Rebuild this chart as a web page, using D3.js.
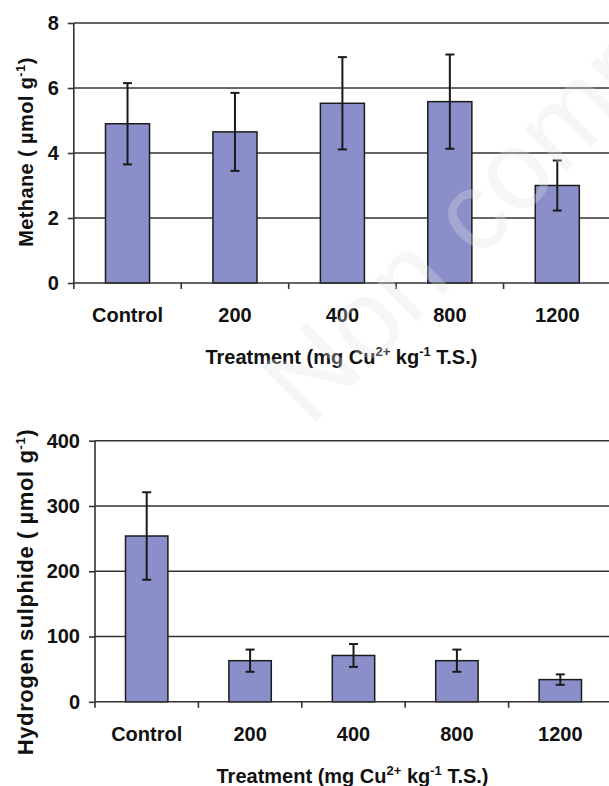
<!DOCTYPE html>
<html>
<head>
<meta charset="utf-8">
<script src="https://cdn.jsdelivr.net/npm/d3@7"></script>
<style>
  body { margin: 0; background: #fff; }
  svg { display: block; }
  text { font-family: "Liberation Sans", Arial, sans-serif; font-weight: bold; fill: #111; }
  .grid-line { stroke: #333; stroke-width: 1.6; }
  .axis-line { stroke: #333; stroke-width: 1.6; }
  .bar { fill: #8a8ec9; stroke: #1c1c1c; stroke-width: 1.5; }
  .err { stroke: #1a1a1a; stroke-width: 2; }
  .watermark { font-weight: normal; fill: #e2e2e2; opacity: 0.3; }
</style>
</head>
<body>
<svg id="chart" width="609" height="786"></svg>
<script>
const CATEGORIES = ["Control", "200", "400", "800", "1200"];

const METHANE_MEAN = [4.9, 4.65, 5.53, 5.58, 3.0];
const METHANE_ERR = [1.25, 1.2, 1.42, 1.45, 0.77];
const METHANE_TICKS = [0, 2, 4, 6, 8];

const SULPHIDE_MEAN = [254, 63, 71, 63, 34];
const SULPHIDE_ERR = [67, 17, 17.5, 17, 8];
const SULPHIDE_TICKS = [0, 100, 200, 300, 400];

const svg = d3.select("#chart");

function drawPanel(opts) {
  const g = svg.append("g");
  const yMax = opts.ticks[opts.ticks.length - 1];

  const x = d3.scaleBand()
    .domain(CATEGORIES)
    .range([opts.left, opts.right])
    .paddingInner(0.59)
    .paddingOuter(0.295);

  const y = d3.scaleLinear()
    .domain([0, yMax])
    .range([opts.bottom, opts.top]);

  // horizontal grid lines (0 is the x axis)
  g.selectAll(".grid-line")
    .data(opts.ticks.filter((t) => t > 0))
    .enter().append("line")
    .classed("grid-line", true)
    .attr("x1", opts.left)
    .attr("x2", opts.right)
    .attr("y1", (t) => y(t))
    .attr("y2", (t) => y(t));

  // bars
  const rows = CATEGORIES.map((c, i) => ({"cat": c, "mean": opts.mean[i], "err": opts.err[i]}));

  g.selectAll(".bar")
    .data(rows)
    .enter().append("rect")
    .classed("bar", true)
    .attr("x", (d) => x(d.cat))
    .attr("width", x.bandwidth())
    .attr("y", (d) => y(d.mean))
    .attr("height", (d) => y(0) - y(d.mean));

  // error bars
  const errs = g.selectAll(".err-group")
    .data(rows)
    .enter().append("g")
    .attr("transform", (d) => "translate(" + (x(d.cat) + x.bandwidth() / 2) + ",0)");

  errs.append("line").classed("err", true)
    .attr("x1", 0).attr("x2", 0)
    .attr("y1", (d) => y(d.mean + d.err))
    .attr("y2", (d) => y(d.mean - d.err));
  errs.append("line").classed("err", true)
    .attr("x1", -4.5).attr("x2", 4.5)
    .attr("y1", (d) => y(d.mean + d.err))
    .attr("y2", (d) => y(d.mean + d.err));
  errs.append("line").classed("err", true)
    .attr("x1", -4.5).attr("x2", 4.5)
    .attr("y1", (d) => y(d.mean - d.err))
    .attr("y2", (d) => y(d.mean - d.err));

  // y axis
  const yAxis = g.append("g")
    .attr("transform", "translate(" + opts.left + ",0)")
    .call(d3.axisLeft(y).tickValues(opts.ticks).tickSize(6).tickPadding(9).tickFormat(d3.format("d")));
  yAxis.select(".domain").remove();
  yAxis.selectAll(".tick line").attr("stroke", "#333").attr("stroke-width", 1.6);
  yAxis.selectAll(".tick text").attr("font-size", 20).attr("fill", "#111");
  yAxis.attr("font-family", null).attr("font-size", null);

  g.append("line").classed("axis-line", true)
    .attr("x1", opts.left).attr("x2", opts.left)
    .attr("y1", opts.top).attr("y2", opts.bottom);

  // x axis with ticks on category boundaries
  g.append("line").classed("axis-line", true)
    .attr("x1", opts.left).attr("x2", opts.right)
    .attr("y1", opts.bottom).attr("y2", opts.bottom);

  const step = x.step();
  g.selectAll(".cat-tick")
    .data(d3.range(CATEGORIES.length + 1))
    .enter().append("line")
    .classed("axis-line", true)
    .attr("x1", (i) => opts.left + i * step)
    .attr("x2", (i) => opts.left + i * step)
    .attr("y1", opts.bottom)
    .attr("y2", opts.bottom + 6);

  g.selectAll(".cat-label")
    .data(CATEGORIES)
    .enter().append("text")
    .attr("x", (c) => x(c) + x.bandwidth() / 2)
    .attr("y", opts.bottom + 39)
    .attr("text-anchor", "middle")
    .attr("font-size", 20)
    .text((c) => c);

  // x title
  const xt = g.append("text")
    .attr("x", (opts.left + opts.right) / 2 - 1)
    .attr("y", opts.bottom + 81)
    .attr("text-anchor", "middle")
    .attr("font-size", 20);
  xt.append("tspan").text("Treatment (mg Cu");
  xt.append("tspan").attr("font-size", 13).attr("dy", -8).text("2+");
  xt.append("tspan").attr("dy", 8).text(" kg");
  xt.append("tspan").attr("font-size", 13).attr("dy", -8).text("-1");
  xt.append("tspan").attr("dy", 8).text(" T.S.)");

  // y title
  const yt = g.append("text")
    .attr("transform", "translate(33," + opts.titleY + ") rotate(-90)")
    .attr("text-anchor", "middle")
    .attr("font-size", opts.titleSize)
    .attr("letter-spacing", opts.titleSpacing);
  yt.append("tspan").text(opts.yTitle + " (  µmol g");
  yt.append("tspan").attr("font-size", 13).attr("dy", -8).text("-1");
  yt.append("tspan").attr("dy", 8).text(")");
}

drawPanel({
  "left": 73.8, "right": 611, "top": 23, "bottom": 283,
  "ticks": METHANE_TICKS, "mean": METHANE_MEAN, "err": METHANE_ERR,
  "yTitle": "Methane", "titleY": 152, "titleSize": 20, "titleSpacing": 0.4
});

drawPanel({
  "left": 95, "right": 612, "top": 440.7, "bottom": 701.8,
  "ticks": SULPHIDE_TICKS, "mean": SULPHIDE_MEAN, "err": SULPHIDE_ERR,
  "yTitle": "Hydrogen sulphide", "titleY": 592, "titleSize": 22, "titleSpacing": 0.6
});

// faint diagonal watermark over the top panel
svg.append("text")
  .classed("watermark", true)
  .attr("transform", "translate(310,428) rotate(-45)")
  .attr("font-size", 112)
  .text("Non comm");
</script>
</body>
</html>
